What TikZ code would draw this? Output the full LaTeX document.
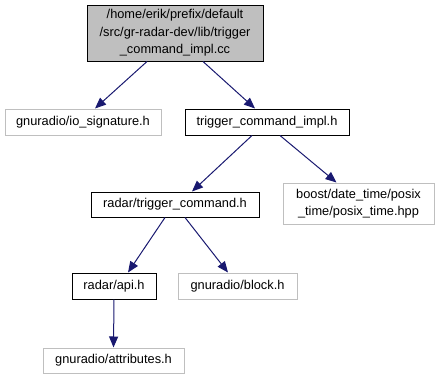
\documentclass[tikz,border=0pt]{standalone}
\usepackage{fontspec}
\setmainfont{Liberation Sans}
\usepackage{tikz}
\usetikzlibrary{calc}
\usetikzlibrary{arrows.meta}

\definecolor{edgeblue}{HTML}{191970}
\definecolor{boxgray}{HTML}{BFBFBF}

\begin{document}
\begin{tikzpicture}[x=1pt, y=-1pt,
 every text node part/.style={align=center},
 every node/.style={font=\fontsize{12.8}{17.5}\selectfont},
block/.style={rectangle, inner sep=0pt, draw=black, line width=1pt},
ext/.style={rectangle, inner sep=0pt, draw=boxgray, line width=1pt},
top/.style={block, fill=boxgray},
arrow/.style={-{Triangle[length=11pt, width=9pt]}, edgeblue, line width=1pt}]

\useasboundingbox (0, 0) rectangle (439, 380);

\node[top, minimum width=176pt, minimum height=56pt] (impl) at (175, 33) {/home/erik/prefix/default\\/src/gr-radar-dev/lib/trigger\\\_command\_impl.cc};

\node[ext, minimum width=156pt, minimum height=26pt] (iosig) at (83, 122) {gnuradio/io\_signature.h};
\node[block, minimum width=164pt, minimum height=26pt] (implh) at (267, 122) {trigger\_command\_impl.h};

\node[block, minimum width=168pt, minimum height=25pt] (trig) at (175, 204.5) {radar/trigger\_command.h};
\node[ext, minimum width=151pt, minimum height=41pt] (posix) at (358.5, 203.5) {boost/date\_time/posix\\\_time/posix\_time.hpp};

\node[block, minimum width=84pt, minimum height=26pt] (api) at (114, 286) {radar/api.h};
\node[ext, minimum width=119pt, minimum height=26pt] (blk) at (237.5, 286) {gnuradio/block.h};

\node[ext, minimum width=141pt, minimum height=25pt] (attr) at (113.5, 360.5) {gnuradio/attributes.h};

\draw[arrow] ($(impl.south) + (-28, 0)$) -- ($(iosig.north) + (12, 0)$);
\draw[arrow] ($(impl.south) + (28, 0)$) -- ($(implh.north) + (-12, 0)$);

\draw[arrow] ($(implh.south) + (-15, 0)$) -- ($(trig.north) + (17, 0)$);
\draw[arrow] ($(implh.south) + (13, 0)$) -- ($(posix.north) + (-22, 0)$);

\draw[arrow] ($(trig.south) + (-10, 0)$) -- ($(api.north) + (14, 0)$);
\draw[arrow] ($(trig.south) + (10, 0)$) -- ($(blk.north) + (-9.5, 0)$);

\draw[arrow] (api.south) -- (attr.north);

\end{tikzpicture}
\end{document}
